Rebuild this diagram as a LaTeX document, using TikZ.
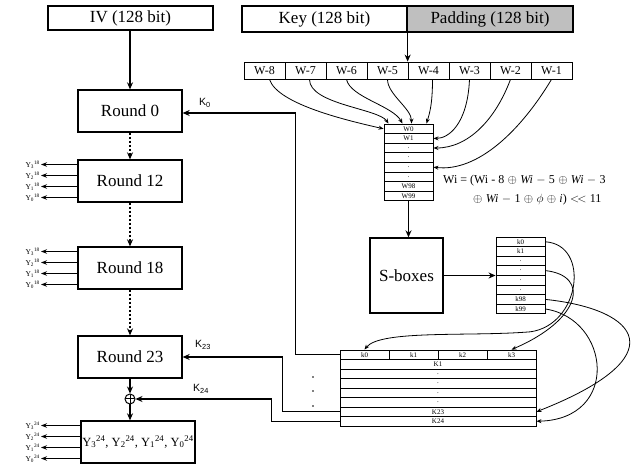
\documentclass[tikz,border=0pt]{standalone}
\usepackage[no-math]{fontspec}
\setmainfont{Liberation Serif}
\newfontfamily\klabfont{Liberation Sans}
\usetikzlibrary{arrows.meta}
\begin{document}
\begin{tikzpicture}[x=1pt, y=-1pt,
  box/.style={draw, line width=1.3pt, inner sep=0pt, font=\fontsize{17}{19}\selectfont},
  roundbox/.style={box, minimum width=104pt, minimum height=42pt},
  wcell/.style={draw, line width=0.8pt, inner sep=0pt, minimum width=41pt, minimum height=17pt, font=\fontsize{12}{13}\selectfont},
  tcell/.style={draw, line width=0.9pt, inner sep=0pt, minimum height=9.6pt, font=\fontsize{7}{8}\selectfont},
  flow/.style={-{Stealth[length=7pt, width=6pt]}, line width=1.3pt},
  dotflow/.style={flow, dash pattern=on 2pt off 2pt},
  curvearrow/.style={-{Stealth[length=5pt, width=4pt]}, line width=0.8pt},
  ylab/.style={anchor=east, inner sep=1pt, font=\fontsize{7.5}{8}\selectfont},
  yout/.style={-{Stealth[length=6pt, width=4.5pt]}, line width=1.1pt},
  klab/.style={font=\klabfont\fontsize{10.5}{11}\selectfont},
  xorbox/.style={circle, draw, line width=1pt, minimum size=10pt, inner sep=0pt,
    path picture={\draw[line width=1pt] (path picture bounding box.north) -- (path picture bounding box.south)
      (path picture bounding box.west) -- (path picture bounding box.east);}}
]
\useasboundingbox (0,0) rectangle (638,465);

\node[box, minimum width=165pt, minimum height=24pt] (iv) at (130.5,18) {IV (128 bit)};
\node[box, minimum width=165pt, minimum height=26pt] (key) at (324.5,19) {Key (128 bit)};
\node[box, fill=black!25, minimum width=166pt, minimum height=26pt] (pad) at (490,19) {Padding (128 bit)};

\foreach \j [count=\i] in {8,7,6,5,4,3,2,1}
  \node[wcell] (wm\j) at ({244+41*(\i-0.5)},70.5) {W-\j};

\foreach \t [count=\i from 0] in {W0,W1,.,.,.,.,W98,W99}
  \node[tcell, minimum width=49pt] (wt\i) at (408.5,{128.8+9.6*\i}) {\t};
\foreach \t [count=\i from 0] in {k0,k1,.,.,.,.,k98,k99}
  \node[tcell, minimum width=49pt] (kt\i) at (520.5,{241.8+9.6*\i}) {\t};

\foreach \i in {0,...,3}
  \node[tcell, minimum width=49pt, minimum height=9.5pt] (bk\i) at ({364.5+49*\i},354.75) {k\i};
\foreach \t [count=\i] in {K1,.,.,.,.,K23,K24}
  \node[tcell, minimum width=196pt, minimum height=9.5pt] (br\i) at (438,{354.75+9.5*\i}) {\t};

\node[roundbox] (r0) at (130,111) {Round 0};
\node[roundbox] (r12) at (130,181) {Round 12};
\node[roundbox] (r18) at (130,268) {Round 18};
\node[roundbox] (r23) at (130,357) {Round 23};
\node[xorbox] (xor) at (130,399) {};
\node[box, minimum width=114pt, minimum height=42pt, font=\fontsize{12.5}{14}\selectfont] (fin) at (138,442)
  {Y\textsubscript{3}\textsuperscript{24}, Y\textsubscript{2}\textsuperscript{24}, Y\textsubscript{1}\textsuperscript{24}, Y\textsubscript{0}\textsuperscript{24}};

\node[box, minimum width=73pt, minimum height=75pt] (sbox) at (406.5,275.5) {S-boxes};

\node[anchor=west, inner sep=0pt, font=\fontsize{12}{14}\selectfont] (wf1) at (443,181)
  {Wi = (Wi - 8\;$\oplus$\;\textit{Wi}\;$-$\;5\;$\oplus$\;\textit{Wi}\;$-$\;3};
\node[anchor=west, inner sep=0pt, font=\fontsize{12}{14}\selectfont] (wf2) at (473,200)
  {$\oplus$\;\textit{Wi}\;$-$\;1\;$\oplus$\;$\phi$\;$\oplus$\;\textit{i})\;$<\!<$\;11};

\node[klab] (k0lab) at (205,103) {K\textsubscript{0}};
\node[klab] (k23lab) at (203,345) {K\textsubscript{23}};
\node[klab] (k24lab) at (201,389) {K\textsubscript{24}};

\foreach \y in {377,391,406}
  \fill (313,\y) circle (0.8pt);

\foreach \rnd/\ex/\yc in {r12/18/181, r18/18/268, fin/24/442}
  \foreach \n/\dy in {3/-16.5, 2/-5.5, 1/5.5, 0/16.5} {
    \node[ylab] (\rnd y\n) at (41,\yc+\dy) {Y\textsubscript{\n}\textsuperscript{\ex}};
    \draw[yout] (\rnd.west |- \rnd y\n) -- (\rnd y\n);
  }

\draw[flow] (r0.north |- iv.south) -- (r0.north);
\draw[dotflow] (r0.south) -- (r12.north);
\draw[dotflow] (r12.south) -- (r18.north);
\draw[dotflow] (r18.south) -- (r23.north);
\draw[flow] (r23.south) -- (xor.north);
\draw[flow] (xor.south) -- (xor.south |- fin.north);

\draw[flow] (bk0.west) -- ++(-44,0) |- ([yshift=-2pt]r0.east);
\draw[flow] (br6.west) -- ++(-57,0) |- (r23.east);
\draw[flow] (br7.west) -- ++(-68,0) |- (xor.east);

\draw[flow] (key.south east) -- (key.south east |- wm4.north);
\draw[flow] (wt7.south) -- (wt7.south |- sbox.north);
\draw[flow] (sbox.east) -- (sbox.east -| kt0.west);

\draw[curvearrow] ([xshift=5pt]wm8.south) .. controls +(8,25) and +(-35,-8) .. (wt0.west);
\draw[curvearrow] ([xshift=4pt]wm7.south) .. controls +(0,25) and +(-10,-15) .. ([xshift=-20pt]wt0.north);
\draw[curvearrow] (wm6.south) .. controls +(4,18) and +(-10,-18) .. ([xshift=-6pt]wt0.north);
\draw[curvearrow] (wm5.south) .. controls +(0,15) and +(0,-15) .. ([xshift=3pt]wt0.north);
\draw[curvearrow] ([xshift=4pt]wm4.south) .. controls +(0,25) and +(3,-10) .. ([xshift=18pt]wt0.north);
\draw[curvearrow] (wm3.south) .. controls +(-2,45) and +(15,0) .. (wt1.east);
\draw[curvearrow] (wm2.south) .. controls +(-15,40) and +(35,0) .. (wt2.east);
\draw[curvearrow] (wm1.south) .. controls +(-30,50) and +(45,5) .. (wt4.east);

\draw[curvearrow] (kt0.east) .. controls +(45,3) and +(50,-7) .. ++(-15,90)
  .. controls +(-60,5) and +(16,-20) .. (bk0.north);
\draw[curvearrow] (kt3.east) .. controls +(45,5) and +(70,-30) .. (bk3.north);
\draw[curvearrow] (kt6.east) .. controls +(95,10) and +(140,-55) .. (br6.east);
\draw[curvearrow] (kt7.east) .. controls +(65,10) and +(84,-2) .. (br7.east);
\end{tikzpicture}
\end{document}
